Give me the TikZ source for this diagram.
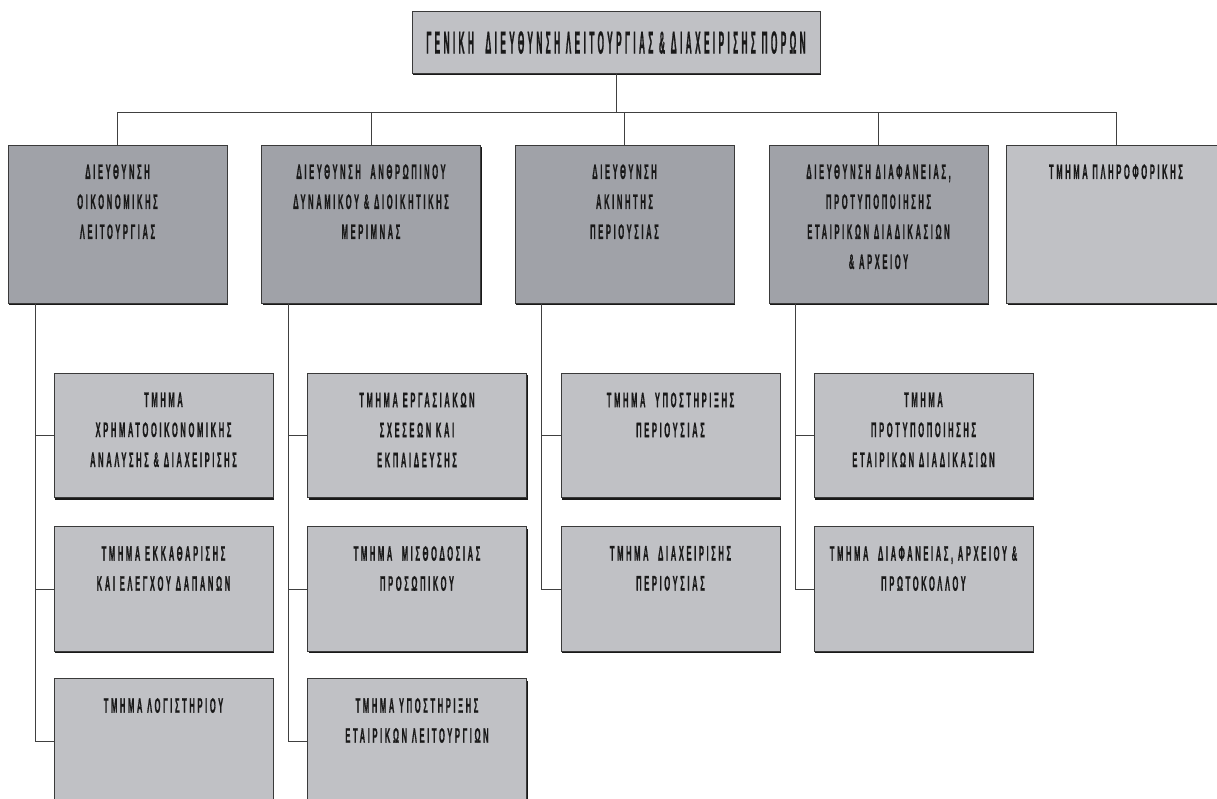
\documentclass[tikz,border=0pt]{standalone}
\usepackage{fontspec}
\setmainfont{Liberation Sans}
\newfontfamily\orgfont[FakeStretch=0.36,LetterSpace=12.5,FakeBold=0.6]{Liberation Sans}
\newfontfamily\titlefont[FakeStretch=0.26,LetterSpace=10.5,FakeBold=0.6]{Liberation Sans}
\usetikzlibrary{shadows}
\definecolor{dirgray}{HTML}{A0A2A8}
\definecolor{secgray}{HTML}{C0C1C5}
\definecolor{edgegray}{HTML}{3A3A3A}
\begin{document}
\begin{tikzpicture}[x=1pt,y=-1pt,
  box/.style={draw=edgegray, line width=0.8pt, inner sep=0pt, minimum width=219pt,
    drop shadow={shadow xshift=1.2pt, shadow yshift=-1.8pt, fill=black!90, opacity=1}},
  dirbox/.style={box, fill=dirgray, minimum height=158pt},
  secbox/.style={box, fill=secgray, minimum height=124.5pt},
  lbl/.style={anchor=north, inner sep=0pt, align=center, text=black!90,
    font=\orgfont\bfseries\fontsize{21}{30}\selectfont},
  link/.style={draw=black!75, line width=1pt}]
\useasboundingbox (0,0) rectangle (1217,798);
\fill[white] (0,0) rectangle (1217,798);
\clip (0,0) rectangle (1217,798);

% connectors first
\coordinate (busL) at (117.5,112);
\coordinate (busR) at (1116,112);

% boxes
\node[box, fill=secgray, minimum width=408pt, minimum height=62pt] (top) at (616,42) {};
\node[dirbox] (d1) at (117.5,224) {};
\node[dirbox] (d2) at (371,224) {};
\node[dirbox] (d3) at (624.5,224) {};
\node[dirbox] (d4) at (878.5,224) {};
\node[dirbox, fill=secgray] (d5) at (1116,224) {};

\node[secbox] (s11) at (163.5,435.5) {};
\node[secbox] (s12) at (163.5,589) {};
\node[secbox] (s13) at (163.5,741) {};
\node[secbox] (s21) at (417,435.5) {};
\node[secbox] (s22) at (417,589) {};
\node[secbox] (s23) at (417,741) {};
\node[secbox] (s31) at (670.5,435.5) {};
\node[secbox] (s32) at (670.5,589) {};
\node[secbox] (s41) at (923.5,435.5) {};
\node[secbox] (s42) at (923.5,589) {};

% tree connectors
\draw[link] (busL) -- (busR);
\draw[link] (top.south) -- (top.south |- busL);
\foreach \d in {d1,d2,d3,d4,d5}{
  \draw[link] (\d.north) -- (\d.north |- busL);
}
\coordinate (v1) at ([xshift=28pt]d1.south west);
\coordinate (v2) at ([xshift=27pt]d2.south west);
\coordinate (v3) at ([xshift=27pt]d3.south west);
\coordinate (v4) at ([xshift=27pt]d4.south west);
\draw[link] (v1) |- (s13.west);
\draw[link] (s11.west -| v1) -- (s11.west);
\draw[link] (s12.west -| v1) -- (s12.west);
\draw[link] (v2) |- (s23.west);
\draw[link] (s21.west -| v2) -- (s21.west);
\draw[link] (s22.west -| v2) -- (s22.west);
\draw[link] (v3) |- (s32.west);
\draw[link] (s31.west -| v3) -- (s31.west);
\draw[link] (v4) |- (s42.west);
\draw[link] (s41.west -| v4) -- (s41.west);

% labels
\node[lbl, font=\titlefont\bfseries\fontsize{32}{36}\selectfont] (ltop) at ([yshift=-20.5pt]top.north) {ΓΕΝΙΚΗ \ ΔΙΕΥΘΥΝΣΗ ΛΕΙΤΟΥΡΓΙΑΣ \& ΔΙΑΧΕΙΡΙΣΗΣ ΠΟΡΩΝ};
\node[lbl] (l1) at ([yshift=-19.5pt]d1.north) {ΔΙΕΥΘΥΝΣΗ\\ΟΙΚΟΝΟΜΙΚΗΣ\\ΛΕΙΤΟΥΡΓΙΑΣ};
\node[lbl] (l2) at ([yshift=-19.5pt]d2.north) {ΔΙΕΥΘΥΝΣΗ \ ΑΝΘΡΩΠΙΝΟΥ\\ΔΥΝΑΜΙΚΟΥ \& ΔΙΟΙΚΗΤΙΚΗΣ\\ΜΕΡΙΜΝΑΣ};
\node[lbl] (l3) at ([yshift=-19.5pt]d3.north) {ΔΙΕΥΘΥΝΣΗ\\ΑΚΙΝΗΤΗΣ\\ΠΕΡΙΟΥΣΙΑΣ};
\node[lbl] (l4) at ([yshift=-19.5pt]d4.north) {ΔΙΕΥΘΥΝΣΗ ΔΙΑΦΑΝΕΙΑΣ,\\ΠΡΟΤΥΠΟΠΟΙΗΣΗΣ\\ΕΤΑΙΡΙΚΩΝ ΔΙΑΔΙΚΑΣΙΩΝ\\\& ΑΡΧΕΙΟΥ};
\node[lbl] (l5) at ([yshift=-19.5pt]d5.north) {ΤΜΗΜΑ ΠΛΗΡΟΦΟΡΙΚΗΣ};

\node[lbl] (m11) at ([yshift=-19.5pt]s11.north) {ΤΜΗΜΑ\\ΧΡΗΜΑΤΟΟΙΚΟΝΟΜΙΚΗΣ\\ΑΝΑΛΥΣΗΣ \& ΔΙΑΧΕΙΡΙΣΗΣ};
\node[lbl] (m12) at ([yshift=-19.5pt]s12.north) {ΤΜΗΜΑ ΕΚΚΑΘΑΡΙΣΗΣ\\ΚΑΙ ΕΛΕΓΧΟΥ ΔΑΠΑΝΩΝ};
\node[lbl] (m13) at ([yshift=-19.5pt]s13.north) {ΤΜΗΜΑ ΛΟΓΙΣΤΗΡΙΟΥ};
\node[lbl] (m21) at ([yshift=-19.5pt]s21.north) {ΤΜΗΜΑ ΕΡΓΑΣΙΑΚΩΝ\\ΣΧΕΣΕΩΝ ΚΑΙ\\ΕΚΠΑΙΔΕΥΣΗΣ};
\node[lbl] (m22) at ([yshift=-19.5pt]s22.north) {ΤΜΗΜΑ \ ΜΙΣΘΟΔΟΣΙΑΣ\\ΠΡΟΣΩΠΙΚΟΥ};
\node[lbl] (m23) at ([yshift=-19.5pt]s23.north) {ΤΜΗΜΑ ΥΠΟΣΤΗΡΙΞΗΣ\\ΕΤΑΙΡΙΚΩΝ ΛΕΙΤΟΥΡΓΙΩΝ};
\node[lbl] (m31) at ([yshift=-19.5pt]s31.north) {ΤΜΗΜΑ \ ΥΠΟΣΤΗΡΙΞΗΣ\\ΠΕΡΙΟΥΣΙΑΣ};
\node[lbl] (m32) at ([yshift=-19.5pt]s32.north) {ΤΜΗΜΑ \ ΔΙΑΧΕΙΡΙΣΗΣ\\ΠΕΡΙΟΥΣΙΑΣ};
\node[lbl] (m41) at ([yshift=-19.5pt]s41.north) {ΤΜΗΜΑ\\ΠΡΟΤΥΠΟΠΟΙΗΣΗΣ\\ΕΤΑΙΡΙΚΩΝ ΔΙΑΔΙΚΑΣΙΩΝ};
\node[lbl] (m42) at ([yshift=-19.5pt]s42.north) {ΤΜΗΜΑ \ ΔΙΑΦΑΝΕΙΑΣ, ΑΡΧΕΙΟΥ \&\\ΠΡΩΤΟΚΟΛΛΟΥ};
\end{tikzpicture}
\end{document}
